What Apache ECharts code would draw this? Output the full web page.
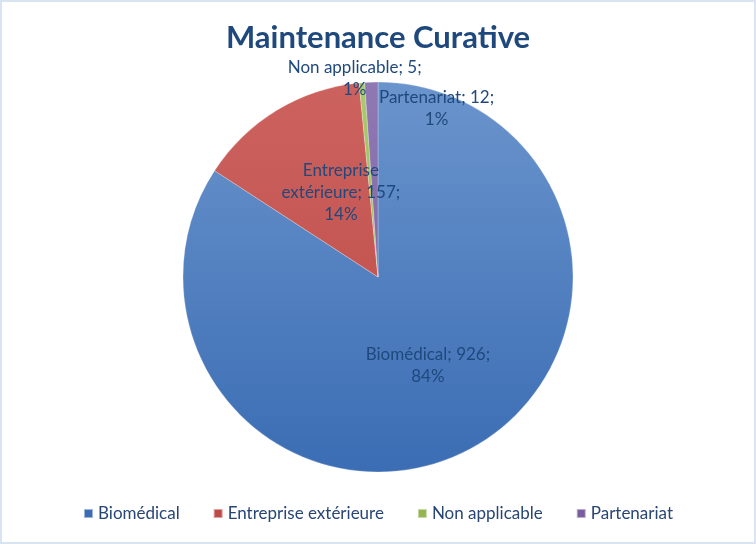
<!DOCTYPE html>
<html><head><meta charset="utf-8">
<script src="https://cdn.jsdelivr.net/npm/echarts@6/dist/echarts.min.js"></script>
<style>html,body{margin:0;padding:0;background:#fff}#c{width:756px;height:544px;box-sizing:border-box;border:2px solid #d9e4f2}</style>
</head><body><div id="c"></div>
<script>
const categories = ['Biomédical', 'Entreprise extérieure', 'Non applicable', 'Partenariat'];
const values = [926, 157, 5, 12];
const percents = ['84%', '14%', '1%', '1%'];
const labelNames = ['Biomédical', 'Entreprise\nextérieure', 'Non applicable', 'Partenariat'];

const textColor = '#1f497d';
const colors = [
  ['#6a94cc', '#3b6db4'],
  ['#cc625e', '#bd4a46'],
  ['#a9c96c', '#93b552'],
  ['#8f78b4', '#7a5d9d']
];
const offsets = [[2, 0], [15, 1], [-15, -98], [62, -68]];

const chart = echarts.init(document.getElementById('c'), null, {renderer: 'canvas'});
const data = categories.map((c, i) => ({
  name: c,
  value: values[i],
  itemStyle: {
    color: {
      type: 'linear', x: 0, y: 80, x2: 0, y2: 470, global: true,
      colorStops: [{offset: 0, color: colors[i][0]}, {offset: 1, color: colors[i][1]}]
    }
  },
  label: {offset: offsets[i]}
}));

chart.setOption({
  animation: false,
  title: {
    text: 'Maintenance Curative',
    left: 'center', top: 15,
    textStyle: {fontFamily: 'Lato', fontWeight: 'bold', fontSize: 31, color: textColor}
  },
  legend: {
    bottom: 15, left: 'center',
    itemWidth: 9, itemHeight: 9, itemGap: 33,
    icon: 'rect',
    textStyle: {fontFamily: 'Lato', fontSize: 17, color: '#284675', padding: [0, 0, 0, 0]},
    data: categories.map((c, i) => ({name: c, itemStyle: {color: colors[i][1]}}))
  },
  series: [{
    type: 'pie',
    center: [376, 275],
    radius: [0, 195],
    startAngle: 90,
    clockwise: true,
    avoidLabelOverlap: false,
    silent: true,
    itemStyle: {borderColor: 'rgba(255,255,255,0.5)', borderWidth: 0.5},
    label: {
      show: true,
      position: 'inside',
      fontFamily: 'Lato',
      fontSize: 17,
      lineHeight: 22,
      color: textColor,
      align: 'center',
      formatter: p => labelNames[p.dataIndex] + '; ' + p.value + ';\n' + percents[p.dataIndex]
    },
    labelLayout: {hideOverlap: false},
    labelLine: {show: false},
    data: data
  }]
});
</script></body></html>
